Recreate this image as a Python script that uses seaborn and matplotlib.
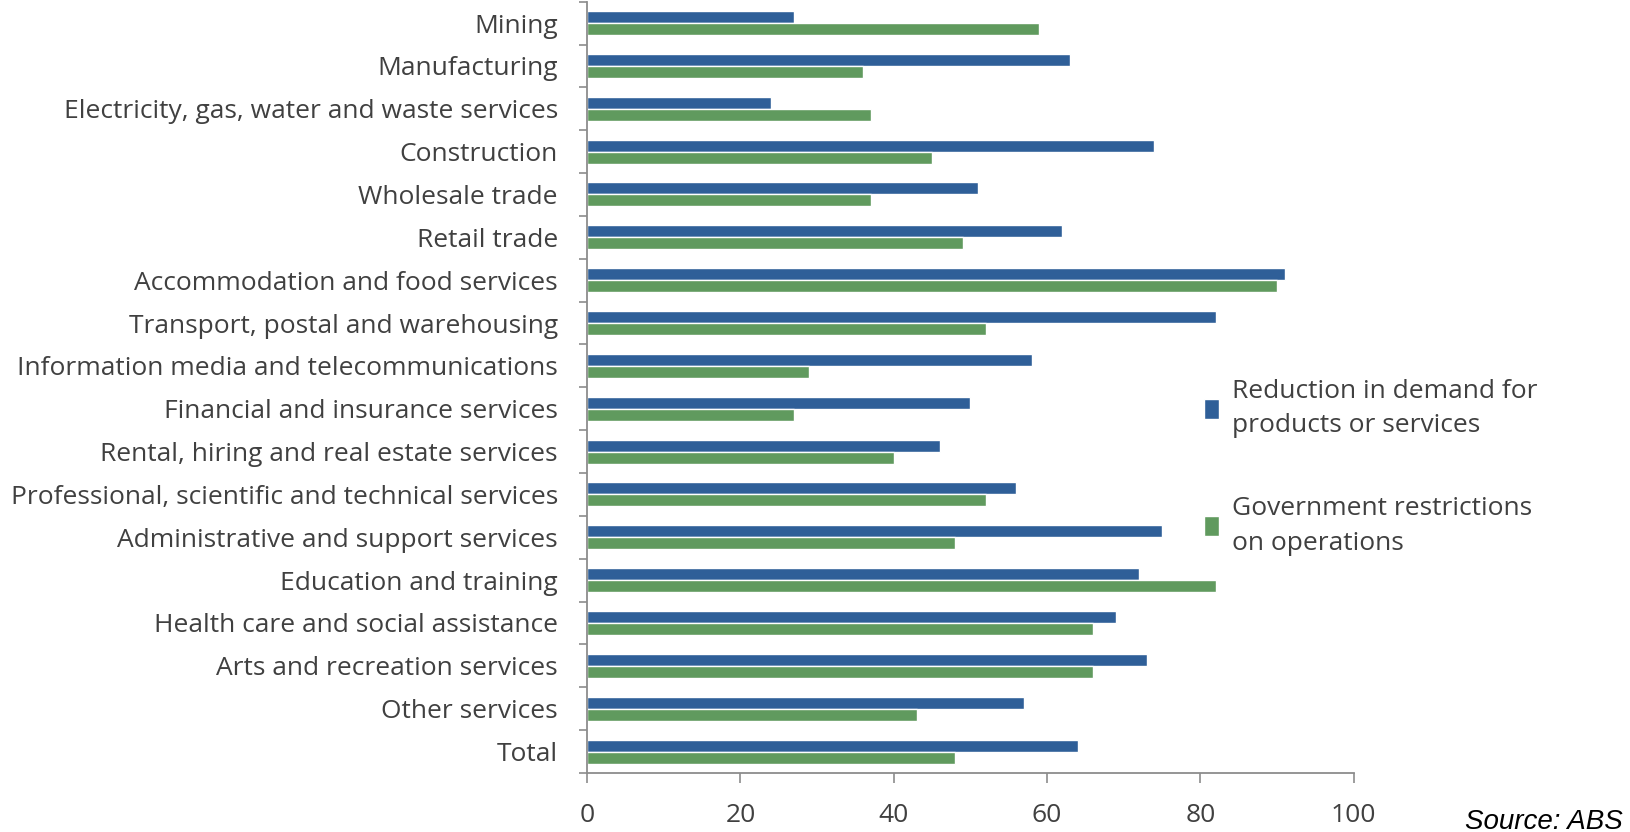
import numpy as np
import pandas as pd
import matplotlib
matplotlib.use("Agg")
import matplotlib.pyplot as plt
from matplotlib.patches import Patch
import seaborn as sns

industries = [
    "Mining",
    "Manufacturing",
    "Electricity, gas, water and waste services",
    "Construction",
    "Wholesale trade",
    "Retail trade",
    "Accommodation and food services",
    "Transport, postal and warehousing",
    "Information media and telecommunications",
    "Financial and insurance services",
    "Rental, hiring and real estate services",
    "Professional, scientific and technical services",
    "Administrative and support services",
    "Education and training",
    "Health care and social assistance",
    "Arts and recreation services",
    "Other services",
    "Total",
]
demand_reduction = [27, 63, 24, 74, 51, 62, 91, 82, 58, 50, 46, 56, 75, 72, 69, 73, 57, 64]
gov_restrictions = [59, 36, 37, 45, 37, 49, 90, 52, 29, 27, 40, 52, 48, 82, 66, 66, 43, 48]
series_names = [
    "Reduction in demand for\nproducts or services",
    "Government restrictions\non operations",
]
x_ticks = [0, 20, 40, 60, 80, 100]

BLUE = "#2F5F98"
GREEN = "#609A5E"
TEXT = "#404040"
AXIS = "#8C8C8C"
FS = 19

sns.set_theme(style="white")
plt.rcParams["font.family"] = ["Open Sans", "DejaVu Sans"]

df = pd.DataFrame({
    "industry": industries * 2,
    "value": demand_reduction + gov_restrictions,
    "series": [series_names[0]] * len(industries) + [series_names[1]] * len(industries),
})

fig = plt.figure(figsize=(16.31, 8.32), dpi=100)
ax = fig.add_axes([0.36, 0.071, 0.47, 0.927])

sns.barplot(
    data=df, y="industry", x="value", hue="series",
    order=industries, hue_order=series_names,
    palette=[BLUE, GREEN], orient="h", width=0.56,
    saturation=1, legend=False, ax=ax,
)

ax.set_xlim(0, 100)
ax.set_ylim(len(industries) - 0.5, -0.5)
ax.set_xticks(x_ticks)
ax.set_xticklabels([str(t) for t in x_ticks], fontsize=FS, color=TEXT)
ax.set_yticks(range(len(industries)))
ax.set_yticklabels(industries, fontsize=FS, color=TEXT)
ax.set_yticks(np.arange(-0.5, len(industries) + 0.5, 1), minor=True)
ax.tick_params(axis="y", which="major", length=0, pad=21)
ax.tick_params(axis="y", which="minor", length=6, width=1.2, color=AXIS, left=True)
ax.tick_params(axis="x", length=7, width=1.2, color=AXIS, pad=15, bottom=True)
ax.set_xlabel("")
ax.set_ylabel("")

for side in ["top", "right"]:
    ax.spines[side].set_visible(False)
for side in ["left", "bottom"]:
    ax.spines[side].set_color(AXIS)
    ax.spines[side].set_linewidth(1.3)

handles = [Patch(facecolor=BLUE), Patch(facecolor=GREEN)]
leg = fig.legend(
    handles, series_names, loc="upper left", bbox_to_anchor=(0.7235, 0.573),
    frameon=False, fontsize=FS, labelcolor=TEXT, labelspacing=2.2,
    handlelength=0.58, handleheight=0.8, handletextpad=0.5,
)
for t in leg.get_texts():
    t.set_linespacing(1.49)

fig.text(0.995, 0.004, "Source: ABS", ha="right", va="baseline",
         fontsize=20, style="italic", family="Liberation Sans", color="#000000")

fig.savefig("out.png", dpi=100, facecolor="white")
